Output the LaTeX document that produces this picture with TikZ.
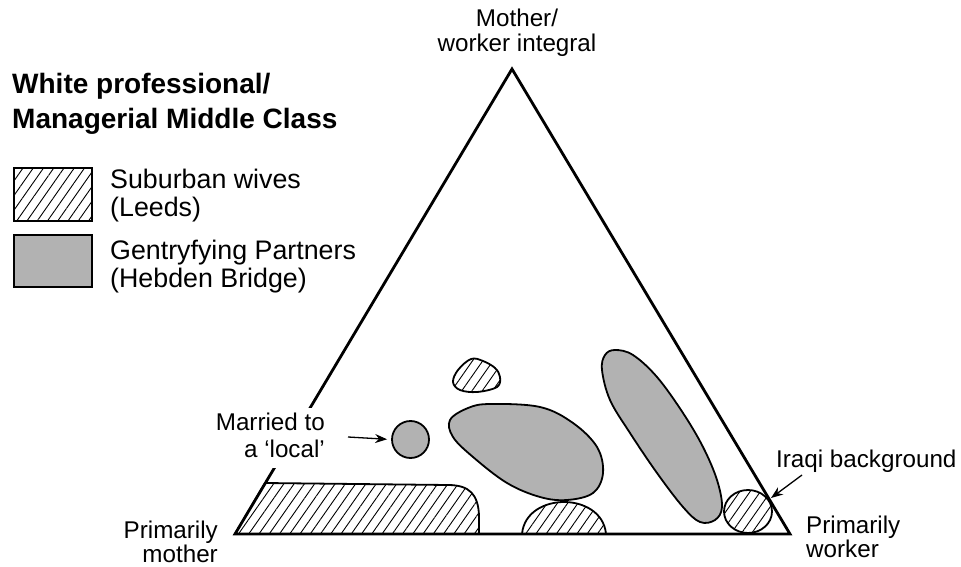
\documentclass[tikz,border=0pt]{standalone}
\usepackage{fontspec}
\setmainfont{Liberation Sans}
\usetikzlibrary{arrows.meta,patterns.meta,shapes.geometric}
\definecolor{blobgray}{gray}{0.70}
\begin{document}
\begin{tikzpicture}[x=1pt,y=-1pt,
  lbl/.style={inner sep=0pt, font=\fontsize{24.2}{28}\selectfont},
  leg/.style={inner sep=0pt, font=\fontsize{26.8}{30}\selectfont},
  ttl/.style={inner sep=0pt, font=\fontsize{28}{33}\selectfont\bfseries},
  knock/.style={fill=white, inner xsep=2pt, inner ysep=5pt, text height=18pt, text depth=6pt},
  hatch/.style={pattern={Lines[angle=55,distance=8.4pt,line width=0.9pt]}},
  grayblob/.style={fill=blobgray, draw=black, line width=1.8pt},
  hatchblob/.style={hatch, draw=black, line width=1.8pt},
  legbox/.style={draw=black, line width=1.5pt},
  arr/.style={-{Stealth[length=12pt,width=9pt]}, line width=1.3pt},
  tri/.style={line width=2.8pt, line join=miter}]
\useasboundingbox (0,0) rectangle (961,567);

% title
\node[ttl, anchor=base west] (t1) at (12,94) {White professional/};
\node[ttl, anchor=base west] (t2) at (12,129) {Managerial Middle Class};

% legend
\path[legbox, hatch] (14,168) rectangle (92,221);
\path[legbox, fill=blobgray] (14,235) rectangle (92,287);
\node[leg, anchor=base west] (l1) at (110,188) {Suburban wives};
\node[leg, anchor=base west] (l2) at (110,216.5) {(Leeds)};
\node[leg, anchor=base west] (l3) at (110,259) {Gentryfying Partners};
\node[leg, anchor=base west] (l4) at (110,287.5) {(Hebden Bridge)};

% corners
\coordinate (apex) at (512,69);
\coordinate (bl) at (235,534);
\coordinate (br) at (790,534);

% regions
\draw[hatchblob] (bl) -- (265,483) -- (448,485)
  .. controls (470,485) and (478,495) .. (479,515) -- (479,534) -- cycle;
\draw[hatchblob] (522,534) .. controls (524,512) and (545,502) .. (564,502)
  .. controls (583,502) and (604,512) .. (606,534) -- cycle;
\draw[hatchblob] plot[smooth cycle, tension=0.6] coordinates
  {(471,359) (483,361) (495,368) (500,377) (497,387) (477,392) (460,390) (453,382) (458,370)};
\draw[grayblob] plot[smooth cycle, tension=0.6] coordinates
  {(450,420) (468,408) (490,404) (540,407) (573,423) (597,447) (603,473) (593,493)
   (567,500) (540,497) (507,483) (473,457) (453,437)};
\draw[grayblob] plot[smooth cycle, tension=0.6] coordinates
  {(615,350) (633,355) (657,377) (683,413) (703,447) (717,480) (722,507) (715,520)
   (700,522) (683,507) (657,473) (630,433) (610,400) (602,370) (605,355)};
\node[circle, grayblob, minimum size=37pt, inner sep=0pt] (local) at (410.5,439.5) {};
\node[ellipse, hatchblob, minimum width=48pt, minimum height=43pt, inner sep=0pt] (iraqi) at (748,511.5) {};

% triangle
\draw[tri] (apex) -- (br) -- (bl) -- cycle;

% labels
\node[lbl, anchor=base] (m1) at (517,27) {Mother/};
\node[lbl, anchor=base] (m2) at (517,52) {worker integral};
\node[lbl, anchor=base east] (pm1) at (218,538) {Primarily};
\node[lbl, anchor=base east] (pm2) at (218,562) {mother};
\node[lbl, anchor=base west] (pw1) at (806,533) {Primarily};
\node[lbl, anchor=base west] (pw2) at (806,557) {worker};
\node[lbl, knock, anchor=base east] (ml1) at (327,430.5) {Married to};
\node[lbl, knock, anchor=base east] (ml2) at (327,457) {a `local'};
\node[lbl, anchor=base west] (iq) at (776,467) {Iraqi background};

% arrows
\coordinate (a1s) at (348,437);
\draw[arr, shorten >=4pt] (a1s) -- (local.west);
\coordinate (a2s) at (802,475);
\coordinate (a2e) at (771,498);
\draw[arr] (a2s) -- (a2e);
\end{tikzpicture}
\end{document}
